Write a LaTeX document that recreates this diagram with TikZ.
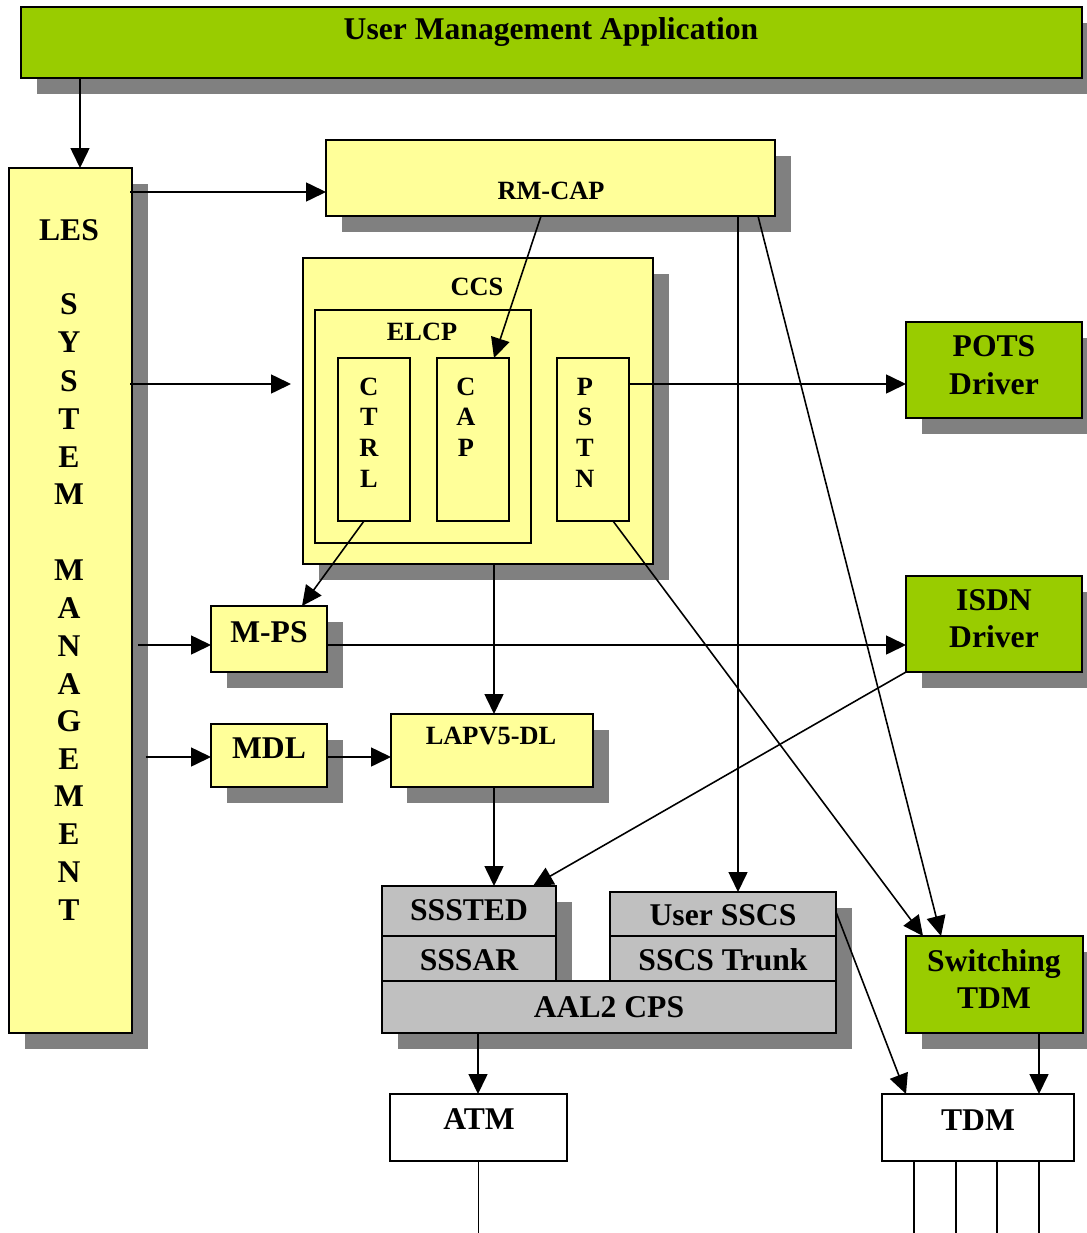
\documentclass[tikz,border=0pt]{standalone}
\usepackage{xcolor}
\usepackage{fontspec}
\setmainfont{Liberation Serif}
\usetikzlibrary{arrows.meta,shadows}

\definecolor{ylw}{HTML}{FFFF99}
\definecolor{grn}{HTML}{99CC00}
\definecolor{shd}{HTML}{808080}
\definecolor{gry}{HTML}{C0C0C0}

\tikzset{
  blk/.style={draw, line width=1pt, inner sep=0pt, outer sep=0pt, anchor=north west},
  sh/.style={drop shadow={shadow xshift=0.32cm, shadow yshift=-0.32cm, fill=shd, opacity=1}},
  sz/.style 2 args={minimum width=#1*0.02cm, minimum height=#2*0.02cm},
  arr/.style={line width=0.9pt, -{Triangle[length=0.4cm,width=0.38cm]}},
  big/.style={font=\fontsize{18}{20}\selectfont\bfseries, anchor=base, inner sep=0pt},
  small/.style={font=\fontsize{15}{17}\selectfont\bfseries, anchor=base, inner sep=0pt},
}

\begin{document}
\begin{tikzpicture}[x=0.02cm, y=-0.02cm]
    \path[use as bounding box, clip] (0,0) rectangle (1087,1233);

    % boxes
    \node[blk, sh, fill=grn, sz={1061}{71}] (uma) at (21,7) {};
    \node[blk, sh, fill=ylw, sz={123}{865}] (les) at (9,168) {};
    \node[blk, sh, fill=ylw, sz={449}{76}] (rmcap) at (326,140) {};
    \node[blk, sh, fill=ylw, sz={350}{306}] (ccs) at (303,258) {};
    \node[blk, fill=ylw, sz={216}{233}] (elcp) at (315,310) {};
    \node[blk, fill=ylw, sz={72}{163}] (ctrl) at (338,358) {};
    \node[blk, fill=ylw, sz={72}{163}] (cap) at (437,358) {};
    \node[blk, fill=ylw, sz={72}{163}] (pstn) at (557,358) {};
    \node[blk, sh, fill=grn, sz={176}{96}] (pots) at (906,322) {};
    \node[blk, sh, fill=grn, sz={176}{96}] (isdn) at (906,576) {};
    \node[blk, sh, fill=ylw, sz={116}{66}] (mps) at (211,606) {};
    \node[blk, sh, fill=ylw, sz={116}{63}] (mdl) at (211,724) {};
    \node[blk, sh, fill=ylw, sz={202}{73}] (lapv) at (391,714) {};
    \node[blk, sh, fill=gry, sz={174}{50}] (sssted) at (382,886) {};
    \node[blk, sh, fill=gry, sz={226}{44}] (usersscs) at (610,892) {};
    \node[blk, sh, fill=gry, sz={174}{45}] (sssar) at (382,936) {};
    \node[blk, sh, fill=gry, sz={226}{45}] (sscstrunk) at (610,936) {};
    \node[blk, sh, fill=gry, sz={454}{52}] (aal2) at (382,981) {};
    \node[blk, sh, fill=grn, sz={177}{97}] (swtdm) at (906,936) {};
    \node[blk, fill=white, sz={177}{67}] (atm) at (390,1094) {};
    \node[blk, fill=white, sz={192}{67}] (tdm) at (882,1094) {};

    % texts
    \node[big] (t-uma) at (551,40) {User Management Application};
    \node[big] (t-les) at (69,240) {LES};
    \foreach \ch/\yy [count=\i] in {S/314,Y/352,S/391,T/429,E/467,M/504,
        M/580,A/618,N/656,A/694,G/731,E/769,M/806,E/844,N/882,T/920}
        \node[big] (t-les\i) at (69,\yy) {\ch};
    \node[small] (t-rmcap) at (551,199) {RM-CAP};
    \node[small] (t-ccs) at (477,295) {CCS};
    \node[small] (t-elcp) at (422,340) {ELCP};
    \foreach \ch/\yy [count=\i] in {C/395,T/425,R/456,L/487}
        \node[small] (t-ctrl\i) at (369,\yy) {\ch};
    \foreach \ch/\yy [count=\i] in {C/395,A/425,P/456}
        \node[small] (t-cap\i) at (466,\yy) {\ch};
    \foreach \ch/\yy [count=\i] in {P/395,S/425,T/456,N/487}
        \node[small] (t-pstn\i) at (585,\yy) {\ch};
    \node[big] (t-pots) at (994,356) {POTS};
    \node[big] (t-potsdrv) at (994,394) {Driver};
    \node[big] (t-isdn) at (994,610) {ISDN};
    \node[big] (t-isdndrv) at (994,647) {Driver};
    \node[big] (t-mps) at (269,642) {M-PS};
    \node[big] (t-mdl) at (269,758) {MDL};
    \node[small] (t-lapv) at (491,744) {LAPV5-DL};
    \node[big] (t-sssted) at (469,920) {SSSTED};
    \node[big] (t-sssar) at (469,970) {SSSAR};
    \node[big] (t-usersscs) at (723,925) {User SSCS};
    \node[big] (t-sscstrunk) at (723,970) {SSCS Trunk};
    \node[big] (t-aal2) at (609,1017) {AAL2 CPS};
    \node[big] (t-sw) at (994,971) {Switching};
    \node[big] (t-swtdm) at (994,1008) {TDM};
    \node[big] (t-atm) at (479,1129) {ATM};
    \node[big] (t-tdm) at (978,1130) {TDM};

    % connectors
    \coordinate (ccsin) at (291,384);
    \draw[arr] (uma.south -| 80,0) -- (les.north -| 80,0);
    \draw[arr] ([xshift=-0.04cm]les.east |- 0,192) -- (rmcap.west |- 0,192);
    \draw[arr] ([xshift=-0.04cm]les.east |- 0,384) -- (ccsin);
    \draw[arr] (rmcap.south -| 541,0) -- (cap.north -| 494,0);
    \draw[arr] (pstn.east |- 0,384) -- (pots.west |- 0,384);
    \draw[arr] (ctrl.south -| 364,0) -- (mps.north -| 302,0);
    \draw[arr] ([xshift=0.12cm]les.east |- 0,645) -- (mps.west |- 0,645);
    \draw[arr] (mps.east |- 0,645) -- (isdn.west |- 0,645);
    \draw[arr] ([xshift=0.28cm]les.east |- 0,757) -- (mdl.west |- 0,757);
    \draw[arr] (mdl.east |- 0,757) -- (lapv.west |- 0,757);
    \draw[arr] (ccs.south -| 494,0) -- (lapv.north -| 494,0);
    \draw[arr] (lapv.south -| 494,0) -- (sssted.north -| 494,0);
    \draw[arr] (isdn.south west) -- (sssted.north -| 533,0);
    \draw[arr] (rmcap.south -| 738,0) -- (usersscs.north -| 738,0);
    \draw[arr] (rmcap.south -| 758,0) -- (swtdm.north -| 941,0);
    \draw[arr] (pstn.south -| 613,0) -- (swtdm.north -| 923,0);
    \draw[arr] (usersscs.east |- 0,912) -- (tdm.north -| 906,0);
    \draw[arr] (swtdm.south -| 1039,0) -- (tdm.north -| 1039,0);
    \draw[arr] (aal2.south -| 478,0) -- (atm.north -| 478,0);
    \draw[line width=0.9pt] (atm.south) -- ++(0,72);
    \foreach \xx in {914,956,997,1039}
        \draw[line width=0.9pt] (tdm.south -| \xx,0) -- ++(0,72);

\end{tikzpicture}
\end{document}
